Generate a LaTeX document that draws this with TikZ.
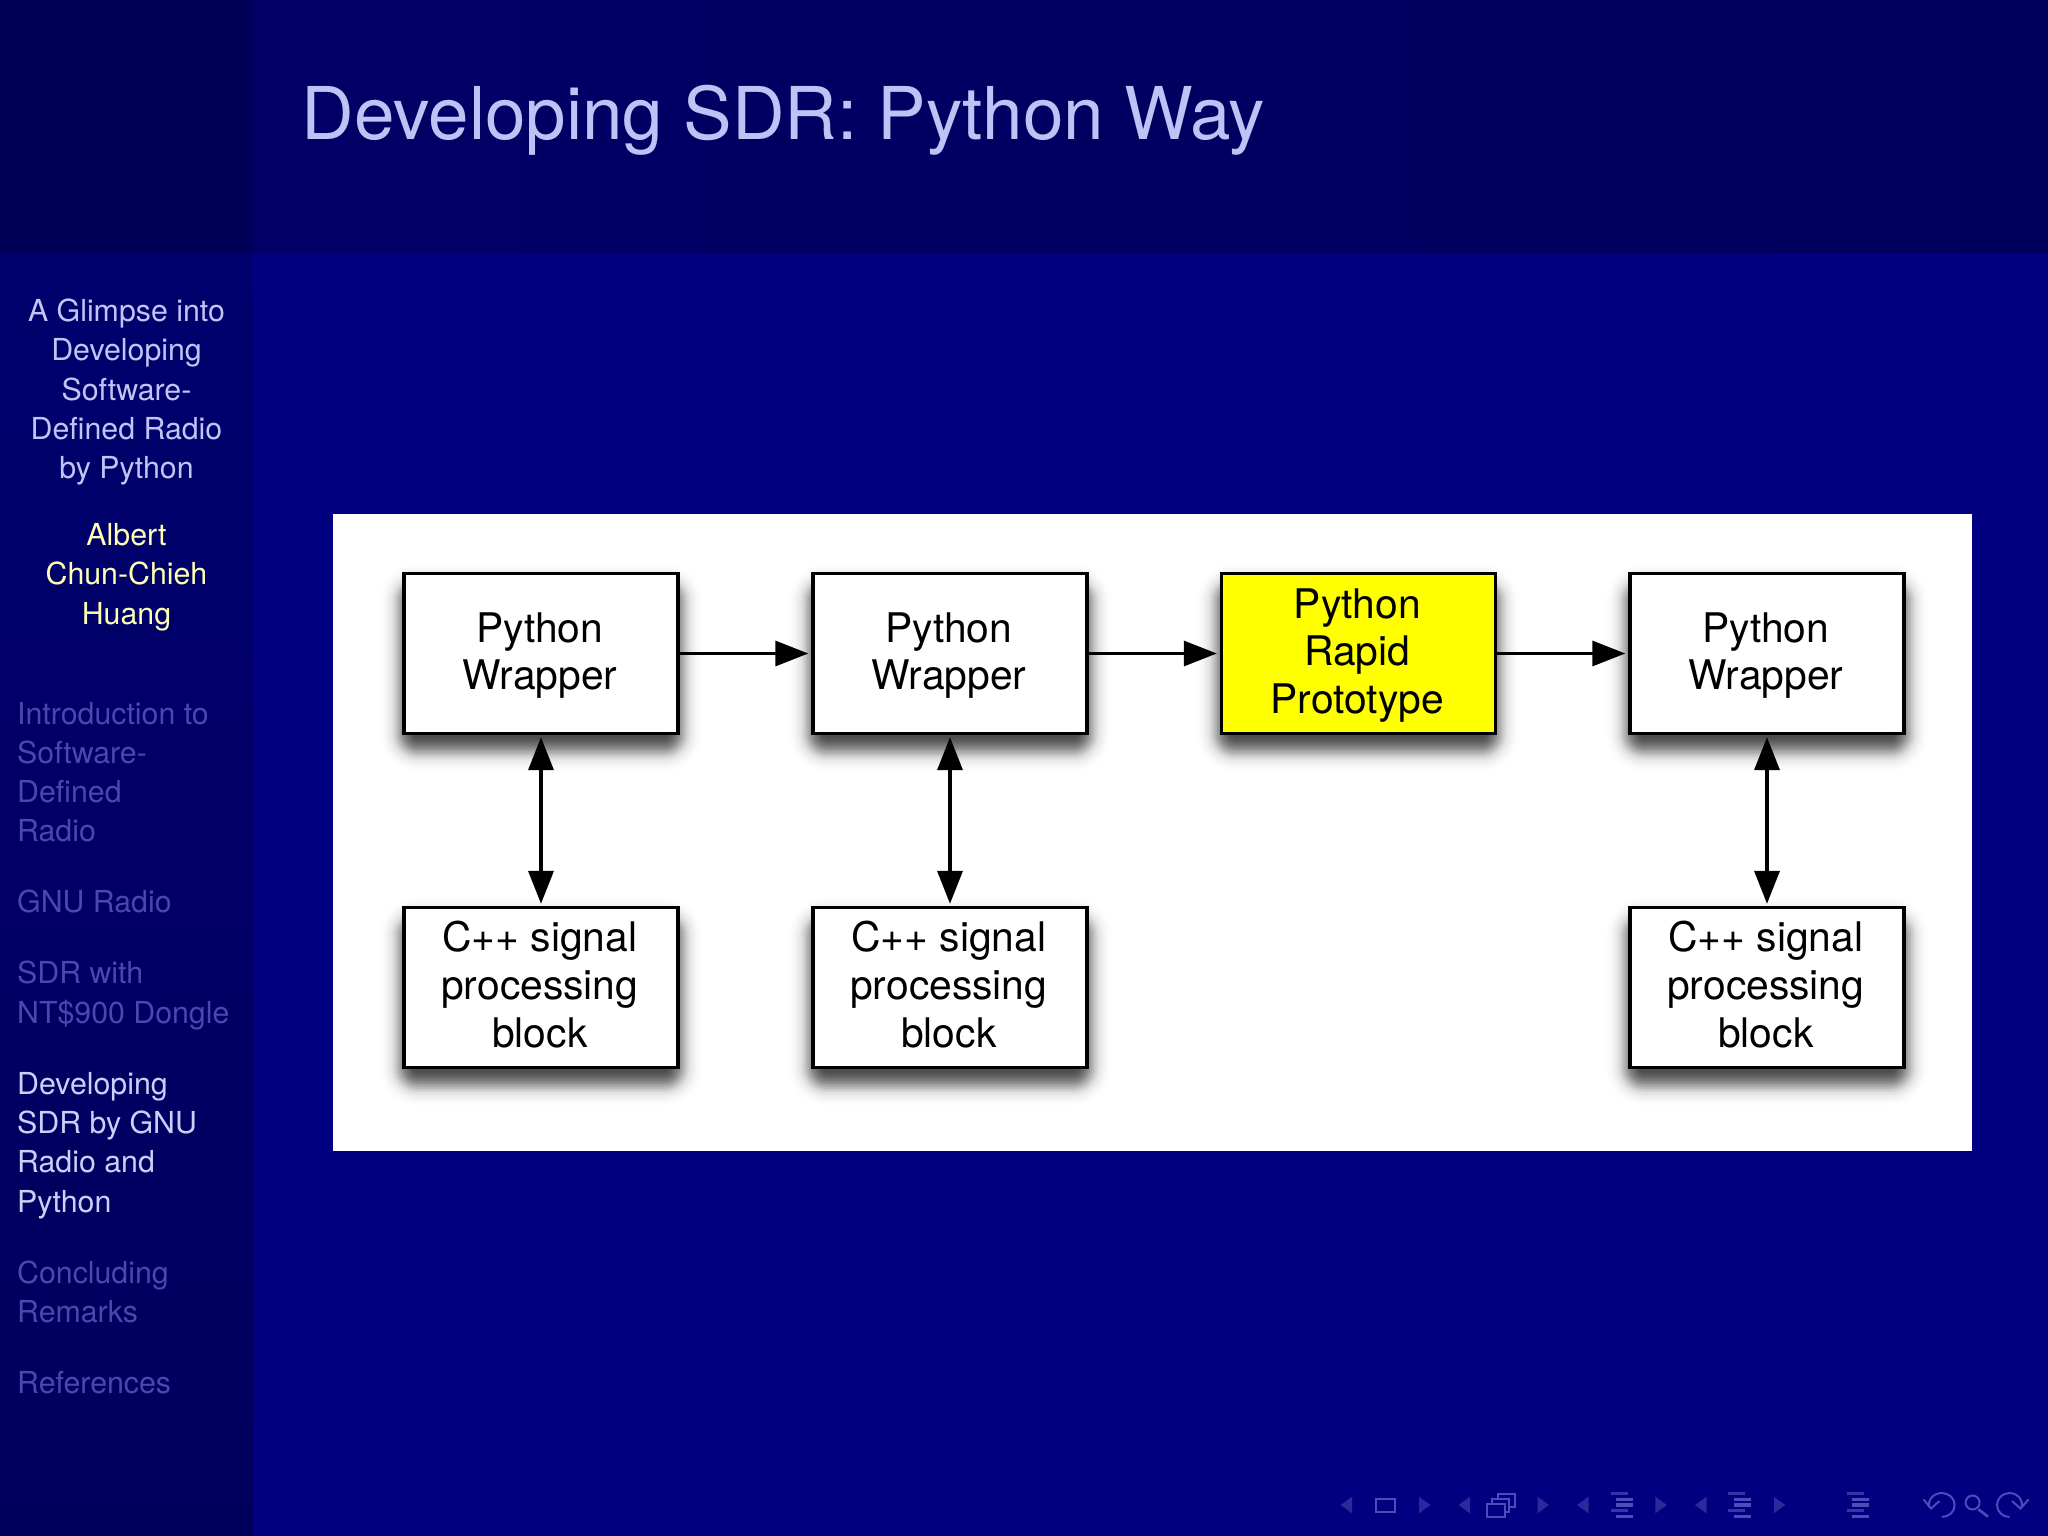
\documentclass[tikz,border=0pt]{standalone}
\usepackage{fontspec}
\setmainfont{TeX Gyre Heros}
\usetikzlibrary{arrows.meta,calc}
\definecolor{bgblue}{HTML}{000080}
\definecolor{cornerblue}{HTML}{000058}
\definecolor{headL}{HTML}{000066}
\definecolor{headR}{HTML}{00005C}
\definecolor{sideT}{HTML}{00006E}
\definecolor{sideB}{HTML}{00005C}
\definecolor{titlecol}{HTML}{BCC3F5}
\definecolor{topcol}{HTML}{BFC6F6}
\definecolor{authcol}{HTML}{FFFFB4}
\definecolor{dimcol}{HTML}{4848AE}
\definecolor{activecol}{HTML}{CCD0F8}
\definecolor{navdim}{HTML}{2A2A9C}
\definecolor{navcol}{HTML}{4C4CBA}
\definecolor{protoyellow}{HTML}{FFFF00}
\newcommand{\softshadow}[2]{%
  \foreach \z/\a in {-1.86/0.078,-1.32/0.078,-1.01/0.078,-0.78/0.078,-0.58/0.078,-0.40/0.078,-0.24/0.078,-0.08/0.078,0.08/0.078,0.24/0.078,0.40/0.078,0.58/0.078,0.78/0.07,1.0/0.05,1.15/0.03,1.3/0.025,1.45/0.02,1.6/0.017,1.75/0.014,1.9/0.012,2.05/0.01,2.2/0.008,2.4/0.006,2.6/0.005}{%
    \pgfmathsetmacro{\ee}{9.5*\z}%
    \pgfmathsetmacro{\rr}{max(1,14+\ee)}%
    \fill[black,opacity=\a,rounded corners=\rr pt]
      (#1-137-\ee,#2-80+14-\ee) rectangle (#1+137+\ee,#2+80+14+\ee);
  }%
}
\tikzset{
  x=1pt,y=-1pt,
  boxnode/.style={draw=black,line width=3.4pt,fill=white,minimum width=274pt,minimum height=160pt,inner sep=0pt},
  toplabel/.style={inner sep=0pt,align=center,font=\fontsize{40.8}{47.6}\selectfont,text=black,xshift=-1.2pt,yshift=-2pt},
  botlabel/.style={inner sep=0pt,align=center,font=\fontsize{40.8}{47.6}\selectfont,text=black,xshift=-1.2pt,yshift=3pt},
  flow/.style={line width=3.2pt,black,-{Triangle[length=33pt,width=25pt]},shorten >=3pt},
  twoway/.style={line width=3.6pt,black,{Triangle[length=33pt,width=25pt]}-{Triangle[length=33pt,width=25pt]},shorten >=2pt,shorten <=2pt},
  side/.style={anchor=base,inner sep=0pt,font=\fontsize{30.3}{39}\selectfont},
  sidetop/.style={side,text=topcol},
  sideauth/.style={side,text=authcol},
  sidedim/.style={side,anchor=base west,text=dimcol},
  sideact/.style={side,anchor=base west,text=activecol},
  navtri/.style={fill=navdim},
  navline/.style={draw=navcol,line width=2pt},
  navbar/.style={fill=navcol},
  navfaint/.style={fill=navcol!70!bgblue},
}
\newcommand{\navL}[1]{\fill[navtri] (#1+11.5,1496.7) -- (#1+11.5,1513.3) -- (#1,1505) -- cycle;}
\newcommand{\navR}[1]{\fill[navtri] (#1,1496.7) -- (#1,1513.3) -- (#1+11.5,1505) -- cycle;}
\newcommand{\navBars}[1]{%
  \fill[navfaint] (#1,1492.3) rectangle ++(17,3.1);
  \fill[navbar] (#1+5.2,1498) rectangle ++(17,3.3);
  \fill[navbar] (#1+5.2,1503.3) rectangle ++(17,3.3);
  \fill[navfaint] (#1,1509) rectangle ++(17,3.3);
  \fill[navbar] (#1+5.2,1514.7) rectangle ++(17,3.3);}
\begin{document}
\begin{tikzpicture}
\useasboundingbox (0,0) rectangle (2048,1536);
\fill[bgblue] (0,0) rectangle (2048,1536);
\shade[left color=headL,right color=headR] (253,0) rectangle (2048,253);
\shade[top color=sideT,bottom color=sideB] (0,253) rectangle (253,1536);
\fill[cornerblue] (0,0) rectangle (253,253);
\fill[white] (333,514) rectangle (1972,1151);

\node[anchor=base west,inner sep=0pt,text=titlecol,font=\fontsize{72.8}{80}\selectfont] (title) at (301.5,140) {Developing SDR: Python Way};

\node[sidetop] (s1) at (126.5,321) {A Glimpse into};
\node[sidetop] (s2) at (126.5,360.5) {Developing};
\node[sidetop] (s3) at (126.5,400) {Software-};
\node[sidetop] (s4) at (126.5,439) {Defined Radio};
\node[sidetop] (s5) at (126.5,478.5) {by Python};
\node[sideauth] (a1) at (126.5,545) {Albert};
\node[sideauth] (a2) at (126.5,584.5) {Chun-Chieh};
\node[sideauth] (a3) at (126.5,624) {Huang};
\node[sidedim] (t1) at (17,724) {Introduction to};
\node[sidedim] (t2) at (17,763) {Software-};
\node[sidedim] (t3) at (17,802) {Defined};
\node[sidedim] (t4) at (17,841.5) {Radio};
\node[sidedim] (t5) at (17,912) {GNU Radio};
\node[sidedim] (t6) at (17,983) {SDR with};
\node[sidedim] (t7) at (17,1023) {NT\$900 Dongle};
\node[sideact] (t8) at (17,1094) {Developing};
\node[sideact] (t9) at (17,1133) {SDR by GNU};
\node[sideact] (t10) at (17,1172) {Radio and};
\node[sideact] (t11) at (17,1212) {Python};
\node[sidedim] (t12) at (17,1283) {Concluding};
\node[sidedim] (t13) at (17,1322) {Remarks};
\node[sidedim] (t14) at (17,1393) {References};

\softshadow{541}{653.5}
\softshadow{950}{653.5}
\softshadow{1358}{653.5}
\softshadow{1767}{653.5}
\softshadow{541}{987.5}
\softshadow{950}{987.5}
\softshadow{1767}{987.5}

\node[boxnode] (w1) at (541,653.5) {};
\node[boxnode] (w2) at (950,653.5) {};
\node[boxnode,fill=protoyellow] (rp) at (1358.5,653.5) {};
\node[boxnode] (w3) at (1767,653.5) {};
\node[boxnode] (c1) at (541,987.5) {};
\node[boxnode] (c2) at (950,987.5) {};
\node[boxnode] (c3) at (1767,987.5) {};
\node[toplabel] (lw1) at (w1.center) {Python\\Wrapper};
\node[toplabel] (lw2) at (w2.center) {Python\\Wrapper};
\node[toplabel] (lrp) at (rp.center) {Python\\Rapid\\Prototype};
\node[toplabel] (lw3) at (w3.center) {Python\\Wrapper};
\node[botlabel] (lc1) at (c1.center) {C++ signal\\processing\\block};
\node[botlabel] (lc2) at (c2.center) {C++ signal\\processing\\block};
\node[botlabel] (lc3) at (c3.center) {C++ signal\\processing\\block};

\draw[flow] (w1) -- (w2);
\draw[flow] (w2) -- (rp);
\draw[flow] (rp) -- (w3);
\draw[twoway] (w1) -- (c1);
\draw[twoway] (w2) -- (c2);
\draw[twoway] (w3) -- (c3);

% navigation symbols
\navL{1340.5}
\draw[navline] (1376,1498.5) rectangle (1394.5,1511.5);
\navR{1419}
\navL{1458.5}
\draw[navline] (1497.5,1493.5) rectangle (1514.7,1506.5);
\draw[navline,fill=bgblue] (1492,1498.5) rectangle (1509.2,1511.5);
\draw[navline,fill=bgblue] (1487,1503.5) rectangle (1505,1516.5);
\navR{1537.5}
\navL{1577}
\navBars{1610.6}
\navR{1655.4}
\navL{1695}
\navBars{1728.4}
\navR{1773.8}
\navBars{1846.8}
\draw[navline] (1941.7,1517) arc[start angle=-90,end angle=190,x radius=13pt,y radius=12pt];
\draw[navline] (1923.6,1499.5) -- (1931,1508.5) -- (1939.4,1501);
\draw[navline] (1972.6,1502.5) circle[radius=7pt];
\draw[navline,line width=2.6pt] (1978.4,1509.3) -- (1988,1516.7);
\draw[navline] (2009.5,1517) arc[start angle=270,end angle=-10,x radius=12.5pt,y radius=12pt];
\draw[navline] (2012,1501) -- (2020.5,1508.5) -- (2028.5,1499.5);
\end{tikzpicture}
\end{document}
